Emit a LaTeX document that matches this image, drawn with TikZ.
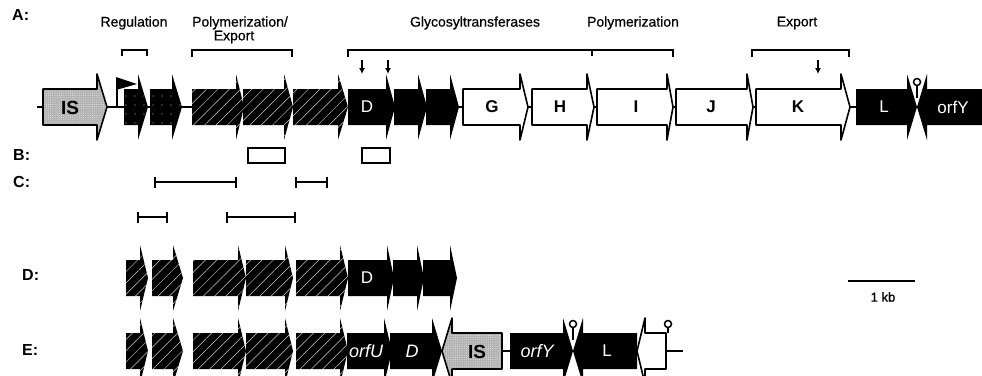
\documentclass[tikz,border=0pt]{standalone}
\usepackage{fontspec}
\setmainfont{Liberation Sans}
\newfontfamily\thicksans[FakeBold=0.6]{Liberation Sans}
\usetikzlibrary{arrows.meta,patterns.meta}
\tikzset{
  hatchgene/.style={fill=black, postaction={pattern={Lines[angle=45,distance=8pt,line width=0.5pt]}, pattern color=gray!40}},
  reggene/.style={fill=black, postaction={pattern={Dots[distance=9pt,radius=0.6pt]}, pattern color=gray!55}},
  blackgene/.style={fill=black},
  whitegene/.style={draw=black, line width=1.6pt, line join=round, fill=white},
  isgene/.style={fill=gray!60, postaction={pattern={Dots[distance=2.2pt,radius=0.5pt]}, pattern color=gray!20}, postaction={draw=black, line width=1.6pt, line join=round}},
  backbone/.style={line width=2pt},
  brk/.style={line width=2pt},
  downarr/.style={line width=1.3pt, -{Latex[length=6pt,width=6pt]}},
  rowlab/.style={font=\fontsize{16}{16}\selectfont\bfseries, anchor=west, inner sep=0pt},
  grplab/.style={font=\fontsize{14}{14}\selectfont\thicksans, inner sep=0pt},
  gtxtw/.style={font=\fontsize{17}{17}\selectfont, text=white, inner sep=0pt},
  gtxtb/.style={font=\fontsize{17}{17}\selectfont\bfseries, text=black, inner sep=0pt},
  istxt/.style={font=\fontsize{19}{19}\selectfont\bfseries, text=black, inner sep=0pt},
  itw/.style={font=\fontsize{18}{18}\selectfont\itshape, text=white, inner sep=0pt},
  bbox/.style={draw=black, line width=2pt, fill=white},
  cbar/.style={line width=1.6pt, {Bar[width=11pt,line width=2pt]}-{Bar[width=11pt,line width=2pt]}},
  lolli/.style={line width=1.5pt},
}
\newcommand\mygeneR[5]{\path[#1] (#2,#5-18) -- (#3,#5-18) -- (#3,#5-33) -- (#4,#5) -- (#3,#5+33) -- (#3,#5+18) -- (#2,#5+18) -- cycle;}
\newcommand\mygeneL[5]{\path[#1] (#2,#5) -- (#3,#5-33) -- (#3,#5-18) -- (#4,#5-18) -- (#4,#5+18) -- (#3,#5+18) -- (#3,#5+33) -- cycle;}
\newcommand\mylolli[3]{\draw[lolli] (#1,#3) -- (#1,#2+4); \draw[lolli, fill=white] (#1,#2) circle (3.5);}
\begin{document}
\begin{tikzpicture}[x=1pt,y=-1pt]
\clip (0,0) rectangle (982,375);
% row labels
\node[rowlab] (lA) at (12,15) {A:};
\node[rowlab] (lB) at (13,155) {B:};
\node[rowlab] (lC) at (13,182) {C:};
\node[rowlab] (lD) at (22,275) {D:};
\node[rowlab] (lE) at (22,350) {E:};
% group labels
\node[grplab] (gReg) at (134,23) {Regulation};
\node[grplab] (gPol) at (240,23) {Polymerization/};
\node[grplab] (gExp) at (234,37) {Export};
\node[grplab] (gGly) at (475,23) {Glycosyltransferases};
\node[grplab] (gPol2) at (633,23) {Polymerization};
\node[grplab] (gExp2) at (797,23) {Export};
% brackets
\draw[brk] (122,56) -- (122,50) -- (147,50) -- (147,56);
\draw[brk] (192,57) -- (192,50) -- (292,50) -- (292,57);
\draw[brk] (348,57) -- (348,50) -- (673,50) -- (673,57);
\draw[brk] (592,50) -- (592,56);
\draw[brk] (752,57) -- (752,50) -- (849,50) -- (849,57);
% down arrows
\coordinate (a1s) at (362,60); \coordinate (a1e) at (362,74);
\coordinate (a2s) at (388,60); \coordinate (a2e) at (388,74);
\coordinate (a3s) at (818,60); \coordinate (a3e) at (818,74);
\draw[downarr] (a1s) -- (a1e);
\draw[downarr] (a2s) -- (a2e);
\draw[downarr] (a3s) -- (a3e);
% ---------- row A ----------
\draw[backbone] (37,107) -- (860,107);
\mygeneR{isgene}{43}{97}{107}{107}
\draw[line width=1.8pt] (117,107) -- (117,78);
\fill (116,77) -- (137,84) -- (116,90) -- cycle;
\mygeneR{reggene}{124}{138}{148}{107}
\mygeneR{reggene}{150}{172}{182}{107}
\mygeneR{hatchgene}{192}{236}{244}{107}
\mygeneR{hatchgene}{243}{284}{293}{107}
\mygeneR{hatchgene}{293}{338}{348}{107}
\mygeneR{blackgene}{348}{386}{395}{107}
\mygeneR{blackgene}{394}{418}{427}{107}
\mygeneR{blackgene}{426}{450}{459}{107}
\mygeneR{whitegene}{463}{520}{528}{107}
\mygeneR{whitegene}{532}{587}{594}{107}
\mygeneR{whitegene}{597}{667}{673}{107}
\mygeneR{whitegene}{676}{747}{753}{107}
\mygeneR{whitegene}{756}{841}{850}{107}
\mygeneR{blackgene}{856}{907}{917}{107}
\mygeneL{blackgene}{917}{927}{995}{107}
\mylolli{917}{82}{98}
\node[istxt] (tIS) at (70,108) {IS};
\node[gtxtw] (tD) at (367,107) {D};
\node[gtxtb] (tG) at (492,107) {G};
\node[gtxtb] (tH) at (560,107) {H};
\node[gtxtb] (tI) at (636,107) {I};
\node[gtxtb] (tJ) at (711,107) {J};
\node[gtxtb] (tK) at (798,107) {K};
\node[gtxtw] (tL) at (884,107) {L};
\node[gtxtw] (tY) at (953,107) {orfY};
% ---------- row B ----------
\draw[bbox] (248,148) rectangle (285,163);
\draw[bbox] (362,148) rectangle (390,163);
% ---------- row C ----------
\coordinate (c1a) at (154,182); \coordinate (c1b) at (237,182);
\coordinate (c2a) at (295,182); \coordinate (c2b) at (328,182);
\coordinate (c3a) at (137,217); \coordinate (c3b) at (168,217);
\coordinate (c4a) at (226,217); \coordinate (c4b) at (296,217);
\draw[cbar] (c1a) -- (c1b);
\draw[cbar] (c2a) -- (c2b);
\draw[cbar] (c3a) -- (c3b);
\draw[cbar] (c4a) -- (c4b);
% ---------- row D ----------
\mygeneR{hatchgene}{126}{140}{148}{278}
\mygeneR{hatchgene}{152}{173}{183}{278}
\mygeneR{hatchgene}{193}{238}{246}{278}
\mygeneR{hatchgene}{246}{285}{293}{278}
\mygeneR{hatchgene}{296}{340}{348}{278}
\mygeneR{blackgene}{348}{387}{394}{278}
\mygeneR{blackgene}{393}{417}{424}{278}
\mygeneR{blackgene}{423}{450}{457}{278}
\node[gtxtw] (tD2) at (367,278) {D};
% scale bar
\coordinate (sb1) at (848,281); \coordinate (sb2) at (915,281);
\draw[line width=2pt] (sb1) -- (sb2);
\node[font=\fontsize{13}{13}\selectfont\thicksans, inner sep=0pt] (kb) at (883,297) {1 kb};
% ---------- row E ----------
\mygeneR{hatchgene}{126}{140}{148}{351}
\mygeneR{hatchgene}{152}{173}{183}{351}
\mygeneR{hatchgene}{193}{238}{246}{351}
\mygeneR{hatchgene}{246}{285}{293}{351}
\mygeneR{hatchgene}{296}{340}{348}{351}
\mygeneR{blackgene}{347}{384}{392}{351}
\mygeneR{blackgene}{390}{432}{442}{351}
\draw[backbone] (495,351) -- (515,351);
\mygeneL{isgene}{442}{452}{502}{351}
\mygeneR{blackgene}{510}{563}{573}{351}
\mygeneL{blackgene}{573}{583}{637}{351}
\mygeneL{whitegene}{637}{645}{666}{351}
\draw[backbone] (666,351) -- (683,351);
\mylolli{573}{324}{340}
\mylolli{668}{324}{333}
\node[itw] (tU) at (366,351) {orfU};
\node[itw] (tD3) at (412,351) {D};
\node[istxt] (tIS2) at (477,352) {IS};
\node[itw] (tY2) at (537,351) {orfY};
\node[gtxtw] (tL2) at (607,351) {L};
\end{tikzpicture}
\end{document}
